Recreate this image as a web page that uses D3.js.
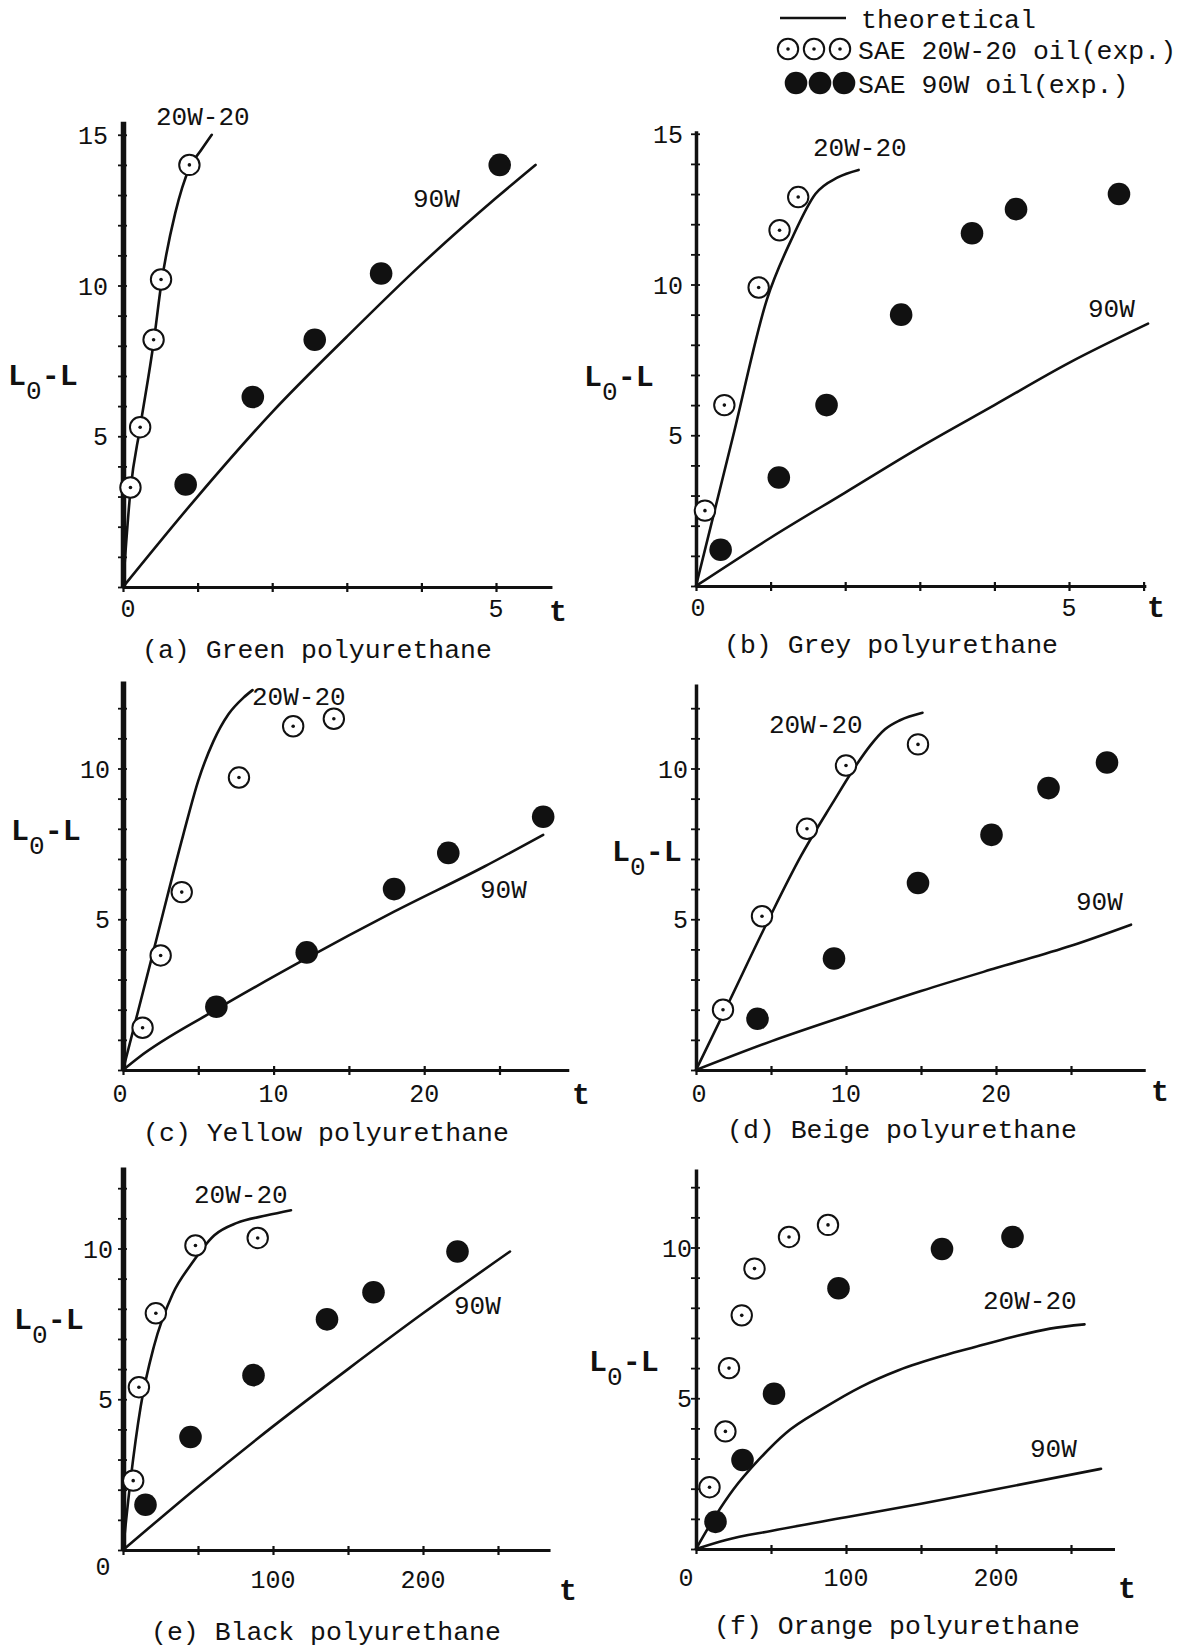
<!DOCTYPE html>
<html>
<head>
<meta charset="utf-8">
<script src="https://cdn.jsdelivr.net/npm/d3@7"></script>
<style>
  html, body { margin: 0; padding: 0; background: #fff; }
  svg { display: block; }
  text { font-family: "Liberation Mono", "DejaVu Sans Mono", monospace; fill: #111; }
</style>
</head>
<body>
<svg id="chart" width="1192" height="1648"></svg>
<script>
// ---- Panel captions and curve names ----
const panelCaptions = [
  "(a) Green polyurethane", "(b) Grey polyurethane",
  "(c) Yellow polyurethane", "(d) Beige polyurethane",
  "(e) Black polyurethane", "(f) Orange polyurethane"
];
const oilNames = ["20W-20", "90W"];
const legendLabels = ["theoretical", "SAE 20W-20 oil(exp.)", "SAE 90W oil(exp.)"];

// ---- Tick labels ----
const yTickLabelsA = [5, 10, 15];
const yTickLabelsB = [5, 10, 15];
const yTickLabelsC = [5, 10];
const yTickLabelsD = [5, 10];
const yTickLabelsE = [5, 10];
const yTickLabelsF = [5, 10];
const tTickLabelsA = [0, 5];
const tTickLabelsB = [0, 5];
const tTickLabelsC = [0, 10, 20];
const tTickLabelsD = [0, 10, 20];
const tTickLabelsE = [0, 100, 200];
const tTickLabelsF = [0, 100, 200];

// ---- (a) Green polyurethane ----
const aExp20T = [0.10, 0.23, 0.41, 0.51, 0.89];
const aExp20L = [3.3, 5.3, 8.2, 10.2, 14.0];
const aExp90T = [0.84, 1.74, 2.57, 3.46, 5.05];
const aExp90L = [3.4, 6.3, 8.2, 10.4, 14.0];
const aTheo20T = [0, 0.10, 0.23, 0.41, 0.51, 0.70, 0.89, 1.05, 1.19];
const aTheo20L = [0, 3.2, 5.3, 8.1, 10.0, 12.4, 13.9, 14.5, 15.0];
const aTheo90T = [0, 1, 2, 3, 4, 5, 5.53];
const aTheo90L = [0, 3.0, 5.8, 8.3, 10.7, 12.9, 14.0];

// ---- (b) Grey polyurethane ----
const bExp20T = [0.12, 0.38, 0.84, 1.12, 1.37];
const bExp20L = [2.5, 6.0, 9.9, 11.8, 12.9];
const bExp90T = [0.33, 1.11, 1.75, 2.75, 3.70, 4.29, 5.67];
const bExp90L = [1.2, 3.6, 6.0, 9.0, 11.7, 12.5, 13.0];
const bTheo20T = [0, 0.5, 0.95, 1.3, 1.6, 1.9, 2.18];
const bTheo20L = [0, 5.0, 9.5, 11.6, 13.0, 13.55, 13.8];
const bTheo90T = [0, 1, 2, 3, 4, 5, 6.06];
const bTheo90L = [0, 1.6, 3.1, 4.6, 6.0, 7.4, 8.7];

// ---- (c) Yellow polyurethane ----
const cExp20T = [1.3, 2.5, 3.9, 7.7, 11.3, 14.0];
const cExp20L = [1.4, 3.8, 5.9, 9.7, 11.4, 11.65];
const cExp90T = [6.2, 12.2, 18.0, 21.6, 27.9];
const cExp90L = [2.1, 3.9, 6.0, 7.2, 8.4];
const cTheo20T = [0, 2.0, 4.0, 5.0, 6.0, 7.0, 8.0, 8.6];
const cTheo20L = [0, 3.9, 7.8, 9.6, 10.9, 11.8, 12.35, 12.6];
const cTheo90T = [0, 1, 6, 12, 18, 24, 27.9];
const cTheo90L = [0, 0.4, 1.95, 3.65, 5.25, 6.75, 7.8];

// ---- (d) Beige polyurethane ----
const dExp20T = [1.8, 4.4, 7.4, 10.0, 14.8];
const dExp20L = [2.0, 5.1, 8.0, 10.1, 10.8];
const dExp90T = [4.1, 9.2, 14.8, 19.7, 23.5, 27.4];
const dExp90L = [1.7, 3.7, 6.2, 7.8, 9.35, 10.2];
const dTheo20T = [0, 2.0, 4.8, 7.0, 9.1, 10.6, 11.6, 12.6, 13.6, 15.1];
const dTheo20L = [0, 2.05, 4.95, 7.1, 8.85, 10.05, 10.75, 11.3, 11.6, 11.85];
const dTheo90T = [0, 5, 10, 15, 20, 25, 29];
const dTheo90L = [0, 0.95, 1.8, 2.62, 3.38, 4.12, 4.82];

// ---- (e) Black polyurethane ----
const eExp20T = [6.8, 10.6, 21.9, 48.3, 89.8];
const eExp20L = [2.3, 5.4, 7.85, 10.1, 10.35];
const eExp90T = [15, 45, 87, 136, 167, 223];
const eExp90L = [1.5, 3.75, 5.8, 7.65, 8.55, 9.9];
const eTheo20T = [0, 5.0, 11.8, 20.6, 33.2, 45.8, 60.9, 76, 96, 112];
const eTheo20L = [0, 2.3, 4.76, 6.75, 8.5, 9.5, 10.44, 10.85, 11.1, 11.27];
const eTheo90T = [0, 50, 100, 150, 200, 258];
const eTheo90L = [0, 2.1, 4.1, 6.0, 7.85, 9.9];

// ---- (f) Orange polyurethane ----
const fExp20T = [9, 19.6, 22, 30.5, 39, 62, 88];
const fExp20L = [2.05, 3.9, 6.0, 7.75, 9.3, 10.35, 10.75];
const fExp90T = [13, 31, 52, 95, 164, 211];
const fExp90L = [0.9, 2.95, 5.15, 8.65, 9.95, 10.35];
const fTheo20T = [0, 13, 25, 42, 60, 85, 110, 135, 166, 186, 211, 236, 259];
const fTheo20L = [0, 1.1, 1.98, 2.97, 3.85, 4.67, 5.38, 5.93, 6.43, 6.7, 7.03, 7.31, 7.45];
const fTheo90T = [0, 20, 50, 100, 150, 200, 270];
const fTheo90L = [0, 0.3, 0.6, 1.05, 1.5, 1.98, 2.66];

const zip = (a, b) => a.map((v, i) => [v, b[i]]);

const panelData = [
  { exp20: zip(aExp20T, aExp20L), exp90: zip(aExp90T, aExp90L), th20: zip(aTheo20T, aTheo20L), th90: zip(aTheo90T, aTheo90L), yLab: yTickLabelsA, tLab: tTickLabelsA },
  { exp20: zip(bExp20T, bExp20L), exp90: zip(bExp90T, bExp90L), th20: zip(bTheo20T, bTheo20L), th90: zip(bTheo90T, bTheo90L), yLab: yTickLabelsB, tLab: tTickLabelsB },
  { exp20: zip(cExp20T, cExp20L), exp90: zip(cExp90T, cExp90L), th20: zip(cTheo20T, cTheo20L), th90: zip(cTheo90T, cTheo90L), yLab: yTickLabelsC, tLab: tTickLabelsC },
  { exp20: zip(dExp20T, dExp20L), exp90: zip(dExp90T, dExp90L), th20: zip(dTheo20T, dTheo20L), th90: zip(dTheo90T, dTheo90L), yLab: yTickLabelsD, tLab: tTickLabelsD },
  { exp20: zip(eExp20T, eExp20L), exp90: zip(eExp90T, eExp90L), th20: zip(eTheo20T, eTheo20L), th90: zip(eTheo90T, eTheo90L), yLab: yTickLabelsE, tLab: tTickLabelsE },
  { exp20: zip(fExp20T, fExp20L), exp90: zip(fExp90T, fExp90L), th20: zip(fTheo20T, fTheo20L), th90: zip(fTheo90T, fTheo90L), yLab: yTickLabelsF, tLab: tTickLabelsF }
];

// ---- Layout of each panel (pixel geometry) ----
const Y_PX = 30.15; // pixels per unit of L0-L
const layout = [
  { x0: 123, y0: 587,  tPx: 74.6, tMax: 5.75,  tStep: 1,  yTop: 15.45, yW: 5.5,
    yLabDx: -15, tLabDy: 21, zero: [5, 21],
    cap: [317, 648], tAx: [558, 610], lab20: [156, 116], lab90: [413, 198], yName: [8, 385] },
  { x0: 696, y0: 586,  tPx: 74.6, tMax: 6.03,  tStep: 1,  yTop: 15.1, yW: 3.5,
    yLabDx: -13, tLabDy: 21, zero: [2, 21],
    cap: [891, 643], tAx: [1156, 606], lab20: [813, 147], lab90: [1088, 308], yName: [584, 386] },
  { x0: 123, y0: 1070, tPx: 15.06, tMax: 29.6, tStep: 5,  yTop: 12.9, yW: 5.5,
    yLabDx: -13, tLabDy: 23, zero: [-3, 23],
    cap: [326, 1131], tAx: [581, 1093], lab20: [252, 696], lab90: [480, 889], yName: [11, 840] },
  { x0: 696, y0: 1070, tPx: 15.0, tMax: 29.95, tStep: 5,  yTop: 12.8, yW: 3.5,
    yLabDx: -8, tLabDy: 23, zero: [3, 23],
    cap: [902, 1128], tAx: [1160, 1090], lab20: [769, 724], lab90: [1076, 901], yName: [612, 861] },
  { x0: 123, y0: 1550, tPx: 1.5, tMax: 284.7, tStep: 50, yTop: 12.7, yW: 5.5,
    yLabDx: -10, tLabDy: 29, zero: [-20, 16],
    cap: [326, 1630], tAx: [568, 1589], lab20: [194, 1194], lab90: [454, 1305], yName: [14, 1329] },
  { x0: 696, y0: 1549, tPx: 1.5, tMax: 279,   tStep: 50, yTop: 12.6, yW: 3.5,
    yLabDx: -4, tLabDy: 28, zero: [-10, 28],
    cap: [897, 1624], tAx: [1127, 1587], lab20: [983, 1300], lab90: [1030, 1448], yName: [589, 1371] }
];

const svg = d3.select("#chart");
svg.append("rect").attr("width", 1192).attr("height", 1648).attr("fill", "#fff");

const INK = "#111";

function openMarker(g, cx, cy) {
  g.append("circle").attr("cx", cx).attr("cy", cy).attr("r", 10.2)
    .attr("fill", "#fff").attr("stroke", INK).attr("stroke-width", 2);
  g.append("circle").attr("cx", cx).attr("cy", cy).attr("r", 1.8).attr("fill", INK);
}
function solidMarker(g, cx, cy) {
  g.append("circle").attr("cx", cx).attr("cy", cy).attr("r", 11.3).attr("fill", INK);
}

panelData.forEach((pd, i) => {
  const p = layout[i];
  const g = svg.append("g").attr("class", "panel");

  const x = d3.scaleLinear().domain([0, p.tMax]).range([p.x0, p.x0 + p.tMax * p.tPx]);
  const y = d3.scaleLinear().domain([0, p.yTop]).range([p.y0, p.y0 - p.yTop * Y_PX]);

  // x axis
  const xAxis = g.append("g").attr("transform", `translate(0,${p.y0})`)
    .call(d3.axisBottom(x).tickValues(d3.range(0, p.tMax, p.tStep)).tickSize(5).tickSizeOuter(0).tickFormat(""));
  xAxis.select(".domain").attr("stroke", INK).attr("stroke-width", 3.2);
  xAxis.selectAll(".tick line").attr("y1", -4).attr("y2", 5).attr("stroke", INK).attr("stroke-width", 2.2);

  // y axis
  const yAxis = g.append("g").attr("transform", `translate(${p.x0},0)`)
    .call(d3.axisLeft(y).tickValues(d3.range(0, Math.floor(p.yTop) + 1, 1)).tickSize(5).tickSizeOuter(0).tickFormat(""));
  yAxis.select(".domain").attr("stroke", INK).attr("stroke-width", p.yW);
  yAxis.selectAll(".tick line").attr("x1", -5).attr("x2", 4).attr("stroke", INK).attr("stroke-width", 1.8);

  // y tick labels
  g.selectAll(".ylab").data(pd.yLab).enter().append("text")
    .attr("x", p.x0 + p.yLabDx).attr("y", d => y(d)).attr("dy", "0.36em")
    .attr("text-anchor", "end").attr("font-size", 25).text(d => d);

  // t tick labels
  g.selectAll(".tlab").data(pd.tLab).enter().append("text")
    .attr("x", d => d === 0 ? x(0) + p.zero[0] : x(d))
    .attr("y", d => d === 0 ? p.y0 + p.zero[1] : p.y0 + p.tLabDy)
    .attr("dy", "0.36em").attr("text-anchor", "middle").attr("font-size", 25).text(d => d);

  // theoretical curves
  const line = d3.line().x(d => x(d[0])).y(d => y(d[1])).curve(d3.curveMonotoneX);
  [pd.th20, pd.th90].forEach(pts => {
    g.append("path").attr("d", line(pts)).attr("fill", "none")
      .attr("stroke", INK).attr("stroke-width", 2.6).attr("stroke-linecap", "round");
  });

  // experimental points
  pd.exp90.forEach(d => solidMarker(g, x(d[0]), y(d[1])));
  pd.exp20.forEach(d => openMarker(g, x(d[0]), y(d[1])));

  // curve names
  g.append("text").attr("x", p.lab20[0]).attr("y", p.lab20[1]).attr("dy", "0.36em")
    .attr("font-size", 26).text(oilNames[0]);
  g.append("text").attr("x", p.lab90[0]).attr("y", p.lab90[1]).attr("dy", "0.36em")
    .attr("font-size", 26).text(oilNames[1]);

  // axis names
  const yn = g.append("text").attr("x", p.yName[0]).attr("y", p.yName[1])
    .attr("font-weight", "bold").attr("font-size", 30);
  yn.append("tspan").text("L");
  yn.append("tspan").attr("dy", 14).attr("font-size", 26).attr("font-weight", "normal").text("0");
  yn.append("tspan").attr("dy", -14).text("-L");

  g.append("text").attr("x", p.tAx[0]).attr("y", p.tAx[1]).attr("dy", "0.36em")
    .attr("text-anchor", "middle").attr("font-weight", "bold").attr("font-size", 30).text("t");

  // caption
  g.append("text").attr("x", p.cap[0]).attr("y", p.cap[1]).attr("dy", "0.36em")
    .attr("text-anchor", "middle").attr("font-size", 26.5).text(panelCaptions[i]);
});

// ---- Legend ----
const lg = svg.append("g").attr("class", "legend");
lg.append("line").attr("x1", 780).attr("x2", 846).attr("y1", 18).attr("y2", 18)
  .attr("stroke", INK).attr("stroke-width", 2.5);
[788, 814, 840].forEach(cx => openMarker(lg, cx, 49));
[796, 820, 844].forEach(cx => solidMarker(lg, cx, 83));
lg.append("text").attr("x", 861).attr("y", 18).attr("dy", "0.36em").attr("font-size", 26.5).text(legendLabels[0]);
lg.append("text").attr("x", 858).attr("y", 49).attr("dy", "0.36em").attr("font-size", 26.5).text(legendLabels[1]);
lg.append("text").attr("x", 858).attr("y", 83).attr("dy", "0.36em").attr("font-size", 26.5).text(legendLabels[2]);
</script>
</body>
</html>
